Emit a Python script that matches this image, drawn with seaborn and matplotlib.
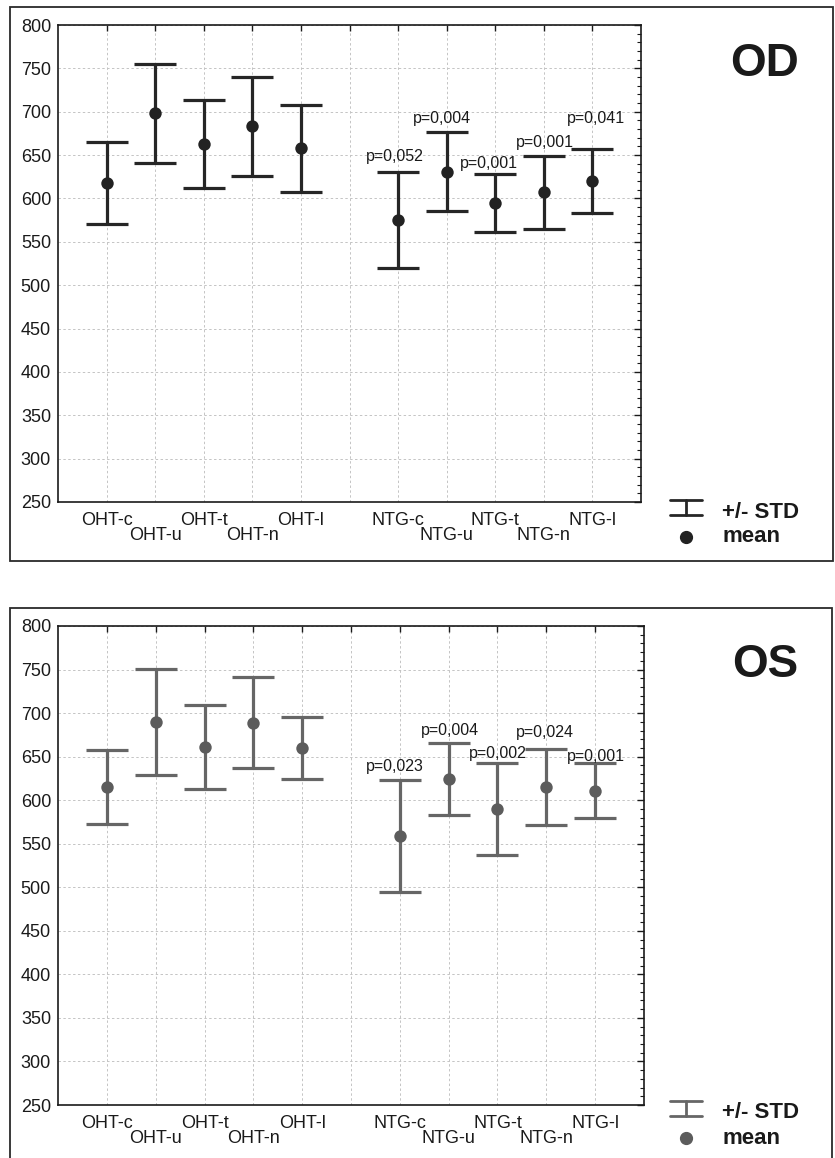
import numpy as np
import pandas as pd
import matplotlib
matplotlib.use('Agg')
import matplotlib.pyplot as plt
import matplotlib.transforms as mtransforms
from matplotlib.patches import Rectangle
from matplotlib.lines import Line2D
from matplotlib.ticker import MultipleLocator
import seaborn as sns

# ---- data ----
oht_labels = ['OHT-c', 'OHT-u', 'OHT-t', 'OHT-n', 'OHT-l']
ntg_labels = ['NTG-c', 'NTG-u', 'NTG-t', 'NTG-n', 'NTG-l']

od_mean = [618, 698, 663, 683, 658, 575, 631, 595, 607, 620]
od_std = [47.5, 57.5, 51, 57.5, 50, 55.5, 45.5, 33.5, 42, 37]

os_mean = [615, 690, 661, 689, 660, 559, 624, 590, 615, 611]
os_std = [42.5, 61, 48.5, 52.5, 35.5, 64, 41.5, 52.5, 44, 31.5]

od_pvals = ['p=0,052', 'p=0,004', 'p=0,001', 'p=0,001', 'p=0,041']
os_pvals = ['p=0,023', 'p=0,004', 'p=0,002', 'p=0,024', 'p=0,001']

# where the p-value labels sit (data coords)
od_p_xy = [(6.94, 648), (7.90, 692), (8.87, 640), (10.02, 664), (11.07, 692)]
os_p_xy = [(6.89, 639), (8.03, 680), (9.00, 654), (9.97, 678), (11.01, 650)]

sns.set_theme(style='white')
plt.rcParams['font.family'] = ['Liberation Sans', 'DejaVu Sans']

W, H = 835, 1158
fig = plt.figure(figsize=(W / 100, H / 100), dpi=100)
fig.patch.set_facecolor('white')


def fx(px):
    return px / W


def fy(py):
    return 1 - py / H


# one slot left empty between the OHT and NTG groups
positions = np.r_[np.arange(1, 6), np.arange(7, 12)]
tick_labels = oht_labels + [''] + ntg_labels
# staggered labels: the "u" and "n" ones sit a bit lower
lower_row = [1, 3, 7, 9]


def draw_panel(ax, means, stds, pvals, p_xy, bar_color, dot_color):
    df = pd.DataFrame({'pos': positions, 'mean': means, 'std': stds})
    ax.errorbar(df['pos'], df['mean'], yerr=df['std'], fmt='none',
                ecolor=bar_color, elinewidth=2.3, capsize=15, capthick=2.3,
                zorder=3)
    sns.scatterplot(data=df, x='pos', y='mean', ax=ax, color=dot_color,
                    s=80, linewidth=0, zorder=4)
    for txt, (x, y) in zip(pvals, p_xy):
        ax.text(x, y, txt, ha='center', va='center', fontsize=11.5,
                color='#1a1a1a', zorder=5)

    ax.set_xlim(0, 12)
    ax.set_ylim(250, 800)
    ax.set_xticks(range(1, 12))
    ax.set_xticklabels(tick_labels)
    ax.set_yticks(range(250, 801, 50))
    ax.yaxis.set_minor_locator(MultipleLocator(10))
    ax.set_xlabel('')
    ax.set_ylabel('')

    ax.tick_params(axis='both', which='both', direction='in', top=True,
                   right=True, colors='#1a1a1a', labelcolor='#1a1a1a')
    ax.tick_params(axis='x', length=4, width=1, labelsize=13, pad=7)
    ax.tick_params(axis='y', which='major', length=5, width=1,
                   labelsize=13, pad=5)
    ax.tick_params(axis='y', which='minor', length=3, width=0.8)

    shift = mtransforms.ScaledTranslation(0, -15 / 100, fig.dpi_scale_trans)
    for i, lab in enumerate(ax.get_xticklabels()):
        if i in lower_row:
            lab.set_transform(lab.get_transform() + shift)

    ax.grid(True, which='major', linestyle=(0, (2.5, 2.5)), linewidth=0.7,
            color='#c4c4c4')
    ax.set_axisbelow(True)
    for sp in ax.spines.values():
        sp.set_linewidth(1.2)
        sp.set_color('#1a1a1a')


def draw_frame(top, bottom, right, title, bar_color, dot_color):
    fig.add_artist(Rectangle((fx(10), fy(bottom)), fx(right - 10),
                             (bottom - top) / H, transform=fig.transFigure,
                             fill=False, edgecolor='#2a2a2a', linewidth=1.3))
    fig.text(fx(765), fy(top + 57), title, ha='center', va='center',
             fontsize=33, fontweight='bold', color='#1a1a1a')
    # legend glyphs
    y1, y2 = top + 493, top + 508
    fig.add_artist(Line2D([fx(686), fx(686)], [fy(y1), fy(y2)],
                          color=bar_color, linewidth=2.0))
    for yy in (y1, y2):
        fig.add_artist(Line2D([fx(670), fx(702)], [fy(yy), fy(yy)],
                              color=bar_color, linewidth=2.0))
    fig.add_artist(Line2D([fx(686)], [fy(top + 530)], marker='o',
                          markersize=8.5, color=dot_color, linestyle='none'))
    fig.text(fx(722), fy(top + 505), '+/- STD', ha='left', va='center',
             fontsize=16, fontweight='bold', color='#1a1a1a')
    fig.text(fx(722), fy(top + 530), 'mean', ha='left', va='center',
             fontsize=16, fontweight='bold', color='#1a1a1a')


ax1 = fig.add_axes([fx(58), fy(502), 583 / W, 477 / H])
ax2 = fig.add_axes([fx(58), fy(1105), 586 / W, 479 / H])

draw_panel(ax1, od_mean, od_std, od_pvals, od_p_xy, '#262626', '#222222')
draw_panel(ax2, os_mean, os_std, os_pvals, os_p_xy, '#666666', '#5c5c5c')

draw_frame(7, 561, 833, 'OD', '#262626', '#222222')
draw_frame(608, 1175, 832, 'OS', '#666666', '#5c5c5c')

fig.savefig('out.png', dpi=100)
